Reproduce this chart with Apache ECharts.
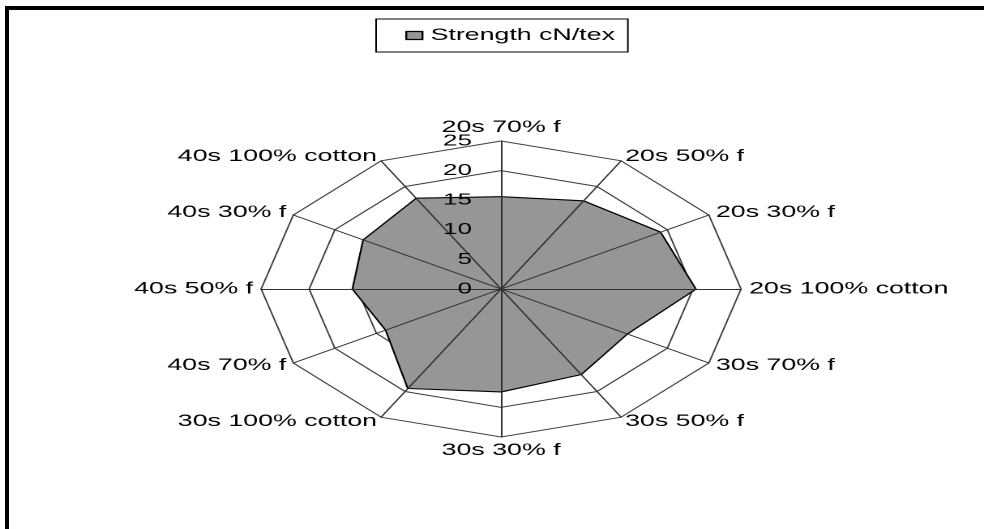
<!DOCTYPE html>
<html>
<head>
<meta charset="utf-8">
<script src="https://cdn.jsdelivr.net/npm/echarts@6/dist/echarts.min.js"></script>
<style>
  html, body { margin: 0; padding: 0; background: #fff; }
  #frame { position: absolute; left: 5px; top: 6px; width: 979px; height: 523px;
           border-top: 4px solid #000; border-left: 4px solid #000; box-sizing: border-box; }
  /* original picture is stretched sideways, so draw narrow and stretch */
  #myChart { position: absolute; left: 0; top: 0; width: 607px; height: 529px;
             transform: scaleX(1.6211); transform-origin: 0 0; }
</style>
</head>
<body>
<div id="frame"></div>
<div id="myChart"></div>
<script>
// categories clockwise from the top
var categories = ['20s 70% f', '20s 50% f', '20s 30% f', '20s 100% cotton',
                  '30s 70% f', '30s 50% f', '30s 30% f', '30s 100% cotton',
                  '40s 70% f', '40s 50% f', '40s 30% f', '40s 100% cotton'];
var strength = [15.5, 17.1, 19.1, 20.2, 15.1, 16.6, 17.3, 19.3, 13.8, 15.4, 16.5, 17.6];
var axisMax = 25;
var axisSplits = 5;

var font = "'Liberation Sans', Arial, sans-serif";

// echarts radar goes counter-clockwise, so flip the order after the first one
var order = [0];
for (var i = categories.length - 1; i > 0; i--) order.push(i);

var indicators = order.map(function (k, j) {
    var ind = { name: categories[k], min: 0, max: axisMax };
    if (j === 0) {
        ind.axisLabel = { show: true }; // only the top spoke carries numbers
    }
    return ind;
});
var values = order.map(function (k) { return strength[k]; });

var myChart = echarts.init(document.getElementById('myChart'), null, { devicePixelRatio: 2 });
var option = {
    animation: false,
    legend: {
        data: [{ name: 'Strength cN/tex', icon: 'rect' }],
        left: 232,
        top: 19,
        padding: [8, 8, 8, 18],
        itemWidth: 10,
        itemHeight: 8,
        borderColor: '#000',
        borderWidth: 1,
        itemStyle: { borderColor: '#000', borderWidth: 1.2 },
        textStyle: { color: '#000', fontSize: 16.5, fontFamily: font }
    },
    radar: [
        {   // rings, under the area
            center: [309.1, 289],
            radius: 148,
            shape: 'polygon',
            splitNumber: axisSplits,
            z: 1,
            indicator: indicators.map(function (d) { return { name: d.name, min: 0, max: axisMax }; }),
            axisName: { color: '#000', fontSize: 16.5, fontFamily: font },
            nameGap: 5,
            axisLine: { show: false },
            splitLine: { lineStyle: { color: '#404040', width: 1 } },
            splitArea: { show: false },
            axisLabel: { show: false }
        },
        {   // spokes and numbers, over the area
            center: [309.1, 289],
            radius: 148,
            shape: 'polygon',
            splitNumber: axisSplits,
            z: 5,
            indicator: indicators,
            axisName: { show: false },
            axisLine: { lineStyle: { color: '#303030', width: 1 } },
            splitLine: { show: false },
            splitArea: { show: false },
            axisLabel: { show: false, color: '#000', fontSize: 16, fontFamily: font, margin: 18 }
        }
    ],
    series: [
        {
            name: 'Strength cN/tex',
            type: 'radar',
            radarIndex: 0,
            z: 2,
            symbol: 'none',
            itemStyle: { color: '#969696' },
            lineStyle: { color: '#000', width: 2.2 },
            areaStyle: { color: '#969696', opacity: 1 },
            data: [{ value: values, name: 'Strength cN/tex' }]
        }
    ]
};
window.onresize = myChart.resize;
myChart.setOption(option);
</script>
</body>
</html>
